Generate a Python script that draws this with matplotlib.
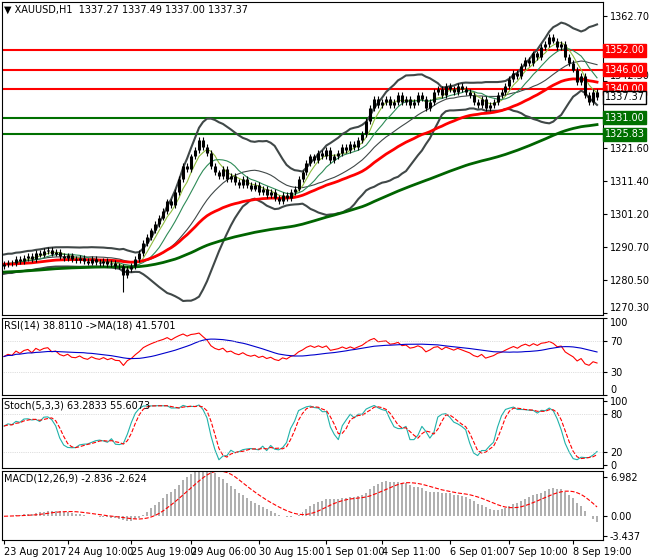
import numpy as np
import pandas as pd
import matplotlib
matplotlib.use("Agg")
import matplotlib.pyplot as plt

closes = [1285.5,1286,1285.8,1287,1286.5,1287.5,1288,1287.2,1289,1288.5,1289.5,1290,1288.8,1289.2,1288,1287.5,1288.2,1287,1286.8,1287.5,1286.5,1286,1287,1286.2,1285.8,1286.5,1285.5,1286,1285,1284.8,
          1282,
          1284,1285,1287,1289,1292,1294,1296,1298,1300,1302,1305,1304,1308,1312,1316,1315,1319,1321,1324,1322,
          1320,1316,1314,1313,1315,1312,1313,
          1311,1310,1312,1310,1309,1310,1308,1309,1307,1308,1306,1305,1307,
          1306,1308,1309,1312,1314,1317,1319,1318,1320,1319,1321,1318,
          1319,1320,1322,1321,1323,1322,1324,1326,
          1330,1334,1337,1335,1336,
          1337,1335,1336,1338,1336,1337,1335,1336,1338,1337,1334,1336,
          1339,1340,1338,1341,1340,1339,1341,1340,1339,1338,
          1336,1335,1337,1334,1335,1336,1338,
          1339,1341,1343,1345,1344,1347,1349,1348,1351,1350,1353,1354,1356,1355,
          1353,1354,1350,1348,1346,1342,1344,1338,1336,1339,1337.37]
first_open = 1285.0
low_spike_idx = 30
low_spike = 1277.0
resist_levels = [1352.00, 1346.00, 1340.00]
support_levels = [1331.00, 1325.83]
last_price = 1337.37
price_ticks = [1362.70, 1342.30, 1321.60, 1311.40, 1301.20, 1290.70, 1280.50, 1270.30]
date_labels = ["23 Aug 2017", "24 Aug 10:00", "25 Aug 19:00", "29 Aug 06:00", "30 Aug 15:00",
               "1 Sep 01:00", "4 Sep 11:00", "6 Sep 01:00", "7 Sep 10:00", "8 Sep 19:00"]
date_pos = [0, 16, 32, 47, 64, 81, 95, 112, 127, 143]

c = pd.Series(closes, dtype=float)
o = c.shift(1).fillna(first_open)
hi = np.maximum(o, c) + 0.9
lo = np.minimum(o, c) - 0.9
lo[low_spike_idx] = low_spike
n = len(c)
x = np.arange(n)

ema_red = c.ewm(span=40, adjust=False).mean()
ema_grn = pd.concat([pd.Series([1283.0]*60), c]).ewm(span=110, adjust=False).mean().iloc[60:].reset_index(drop=True)
ma5 = c.rolling(5, min_periods=1).mean()
ma10 = c.rolling(10, min_periods=1).mean()
mid = c.rolling(20, min_periods=1).mean()
sd = c.rolling(20, min_periods=2).std().fillna(1.5).clip(lower=1.5)
bb_up, bb_dn = mid + 2*sd, mid - 2*sd

d = c.diff().fillna(0)
up = d.clip(lower=0).ewm(alpha=1/14, adjust=False).mean() + 0.3
dn = (-d.clip(upper=0)).ewm(alpha=1/14, adjust=False).mean() + 0.3
rsi = 100 - 100/(1+up/dn)
rsi_ma = rsi.rolling(18, min_periods=1).mean()
hh = pd.Series(hi).rolling(5, min_periods=1).max(); ll = pd.Series(lo).rolling(5, min_periods=1).min()
k = ((c-ll)/(hh-ll)*100).rolling(3, min_periods=1).mean()
dsig = k.rolling(3, min_periods=1).mean()
macd = c.ewm(span=12, adjust=False).mean() - c.ewm(span=26, adjust=False).mean()
msig = macd.rolling(9, min_periods=1).mean()

W, H = 660, 560
fig = plt.figure(figsize=(W/100, H/100), dpi=100)
def ax_px(l, t, r, b):
    return fig.add_axes([l/W, 1-b/H, (r-l)/W, (b-t)/H])
axes = [ax_px(2, 2, 603, 315), ax_px(2, 318, 603, 395), ax_px(2, 398, 603, 468), ax_px(2, 471, 603, 540)]
for a in axes:
    a.set_xlim(-0.5, n+0.5)
    a.yaxis.tick_right()
    a.tick_params(axis='y', labelsize=7, length=3, pad=2)
    a.tick_params(axis='x', length=0, labelbottom=False)
    for s in a.spines.values():
        s.set_color('black'); s.set_linewidth(0.8)

ax = axes[0]
ax.set_ylim(1269.7, 1367.0)
for lv in resist_levels:
    ax.axhline(lv, color='red', lw=1.5)
for lv in support_levels:
    ax.axhline(lv, color='#007000', lw=1.5)
ax.plot(x, bb_up, color='#404848', lw=1.5); ax.plot(x, bb_dn, color='#404848', lw=1.5)
ax.plot(x, mid, color='#404848', lw=0.8)
ax.plot(x, ma5, color='#8fbc3f', lw=0.8); ax.plot(x, ma10, color='#2e8b57', lw=0.8)
ax.plot(x, ema_grn, color='#006400', lw=2)
ax.plot(x, ema_red, color='#ff0000', lw=2)
ax.vlines(x, lo, hi, color='black', lw=0.8)
ax.vlines(x, np.minimum(o, c), np.maximum(o, c), color='black', lw=2.2)
ax.set_yticks(price_ticks)
ax.set_yticklabels([f"{v:.2f}" for v in price_ticks])
ax.get_yticklabels()[-1].set_verticalalignment('bottom')
ax.get_yticklabels()[1].set_verticalalignment('bottom')
for lv, fc in [(1352.00, 'red'), (1346.00, 'red'), (1340.00, 'red'), (1331.00, '#007000'), (1325.83, '#007000')]:
    ax.text(1.003, lv, f"{lv:.2f}", transform=ax.get_yaxis_transform(), fontsize=7, color='white', va='center', zorder=5,
            bbox=dict(boxstyle='square,pad=0.15', fc=fc, ec=fc))
ax.text(1.003, last_price, f"{last_price:.2f}", transform=ax.get_yaxis_transform(), fontsize=7, color='black', va='center', zorder=5,
        bbox=dict(boxstyle='square,pad=0.15', fc='white', ec='black'))
ax.text(0.003, 0.99, "▼ XAUUSD,H1  1337.27 1337.49 1337.00 1337.37", transform=ax.transAxes, fontsize=7, va='top')

def edge_align(a):
    labs = a.get_yticklabels()
    labs[0].set_verticalalignment('top')
    labs[-1].set_verticalalignment('bottom')

a = axes[1]
a.set_ylim(0, 100)
a.plot(x, rsi, color='red', lw=0.8); a.plot(x, rsi_ma, color='#0000cc', lw=0.8)
a.set_yticks([100, 70, 30, 0]); edge_align(a)
for lv in [70, 30]:
    a.axhline(lv, color='#c0c0c0', lw=0.5, ls=':')
a.text(0.003, 0.97, "RSI(14) 38.8110 ->MA(18) 41.5701", transform=a.transAxes, fontsize=7, va='top')

a = axes[2]
a.set_ylim(-5, 105)
a.plot(x, k, color='#20b2aa', lw=0.8); a.plot(x, dsig, color='red', lw=0.8, ls='--')
a.set_yticks([100, 80, 20, 0])
for lv in [80, 20]:
    a.axhline(lv, color='#c0c0c0', lw=0.5, ls=':')
a.text(0.003, 0.97, "Stoch(5,3,3) 63.2833 55.6073", transform=a.transAxes, fontsize=7, va='top')

a = axes[3]
a.set_ylim(-4.2, 8.0)
a.bar(x, macd, width=0.5, color='#b0b0b0')
a.plot(x, msig, color='red', lw=0.8, ls='--')
a.set_yticks([6.982, 0.0, -3.437]); a.set_yticklabels(["6.982", "0.00", "-3.437"])
a.text(0.003, 0.97, "MACD(12,26,9) -2.836 -2.624", transform=a.transAxes, fontsize=7, va='top')
a.set_xticks(date_pos)
a.set_xticklabels(date_labels, fontsize=7)
a.tick_params(axis='x', labelbottom=True, length=3, pad=2)
for lab in a.get_xticklabels():
    lab.set_horizontalalignment('left')

fig.savefig("out.png", dpi=100)
